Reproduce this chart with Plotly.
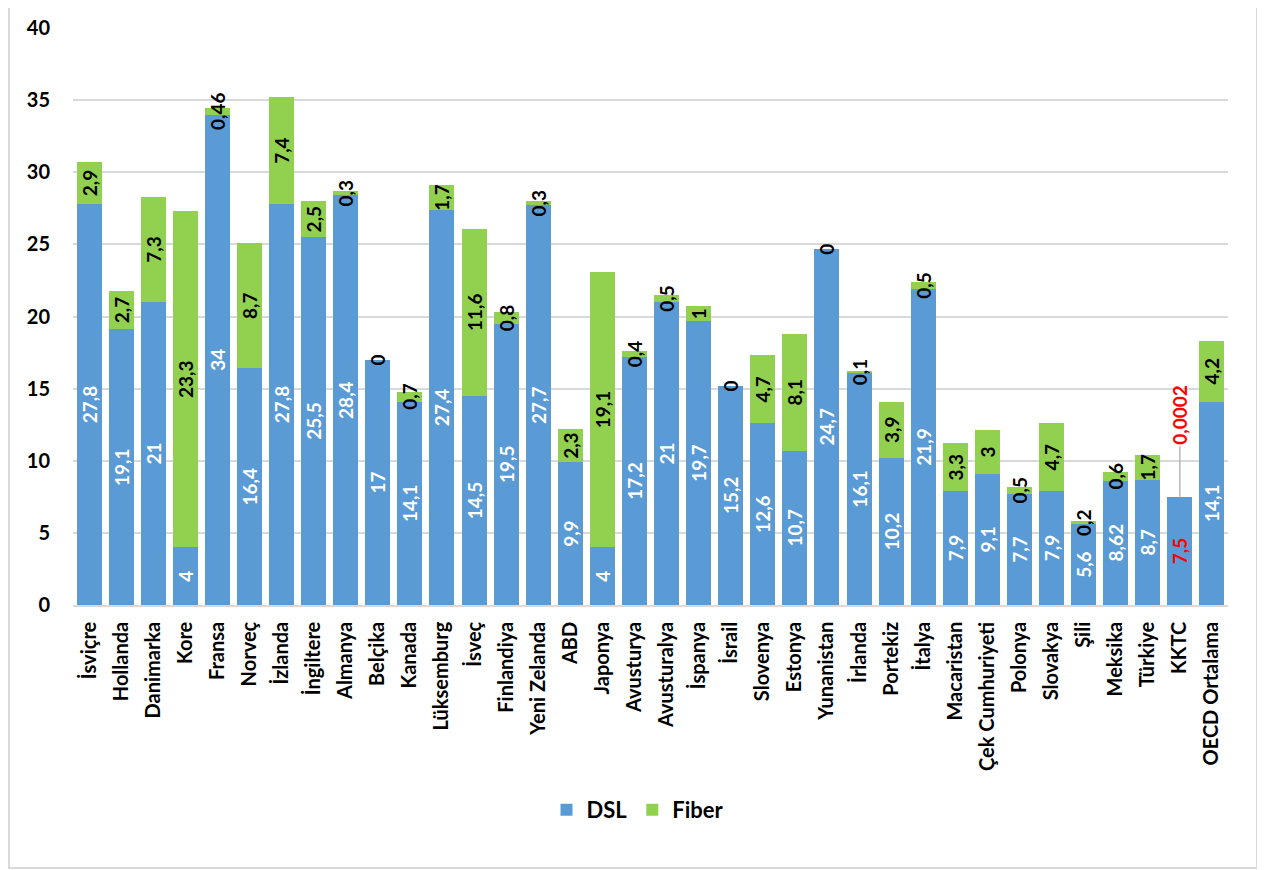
import plotly.graph_objects as go

countries = ["İsviçre", "Hollanda", "Danimarka", "Kore", "Fransa", "Norveç", "İzlanda",
             "İngiltere", "Almanya", "Belçika", "Kanada", "Lüksemburg", "İsveç", "Finlandiya",
             "Yeni Zelanda", "ABD", "Japonya", "Avusturya", "Avusturalya", "İspanya", "İsrail",
             "Slovenya", "Estonya", "Yunanistan", "İrlanda", "Portekiz", "İtalya", "Macaristan",
             "Çek Cumhuriyeti", "Polonya", "Slovakya", "Şili", "Meksika", "Türkiye", "KKTC",
             "OECD Ortalama"]
dsl = [27.8, 19.1, 21, 4, 34, 16.4, 27.8, 25.5, 28.4, 17, 14.1, 27.4, 14.5, 19.5, 27.7, 9.9,
       4, 17.2, 21, 19.7, 15.2, 12.6, 10.7, 24.7, 16.1, 10.2, 21.9, 7.9, 9.1, 7.7, 7.9, 5.6,
       8.62, 8.7, 7.5, 14.1]
fiber = [2.9, 2.7, 7.3, 23.3, 0.46, 8.7, 7.4, 2.5, 0.3, 0, 0.7, 1.7, 11.6, 0.8, 0.3, 2.3,
         19.1, 0.4, 0.5, 1, 0, 4.7, 8.1, 0, 0.1, 3.9, 0.5, 3.3, 3, 0.5, 4.7, 0.2, 0.6, 1.7,
         0.0002, 4.2]
highlight = "KKTC"
y_ticks = [0, 5, 10, 15, 20, 25, 30, 35, 40]

FONT = "Lato"
BLUE = "#5B9BD5"
GREEN = "#92D050"
GRID = "#D9D9D9"


def fmt(v):
    if float(v).is_integer():
        return str(int(v))
    return f"{v:g}".replace(".", ",") if v >= 0.001 else f"{v:.4f}".replace(".", ",")


dsl_text = [fmt(v) for v in dsl]
dsl_colors = ["red" if c == highlight else "white" for c in countries]
fiber_text = ["" if (c == highlight or f == 0) else fmt(f) for c, f in zip(countries, fiber)]

fig = go.Figure()
fig.add_trace(go.Bar(
    name="DSL", x=countries, y=dsl, marker=dict(color=BLUE, line=dict(width=0)),
    text=dsl_text, textposition="inside", insidetextanchor="middle", textangle=-90,
    constraintext="none", cliponaxis=False,
    textfont=dict(family=FONT, size=19, weight="bold", color=dsl_colors),
    hoverinfo="x+y"))
fig.add_trace(go.Bar(
    name="Fiber", x=countries, y=fiber, marker=dict(color=GREEN, line=dict(width=0)),
    text=fiber_text, textposition="inside", insidetextanchor="middle", textangle=-90,
    constraintext="none", cliponaxis=False,
    textfont=dict(family=FONT, size=19, weight="bold", color="black"),
    hoverinfo="x+y"))

annotations = []
for c, d, f in zip(countries, dsl, fiber):
    if c == highlight:
        annotations.append(dict(
            x=c, y=d + f, xref="x", yref="y", text=fmt(f), textangle=-90,
            showarrow=True, arrowhead=0, arrowwidth=1.2, arrowcolor="#A6A6A6",
            ax=0, ay=-82, standoff=0,
            font=dict(family=FONT, size=19, weight="bold", color="red")))
    elif f == 0:
        annotations.append(dict(
            x=c, y=d + f, xref="x", yref="y", text=fmt(f), textangle=-90,
            showarrow=False, xanchor="center", yanchor="middle",
            font=dict(family=FONT, size=19, weight="bold", color="black")))

# page offset (body margin) compensation: target pixel positions minus 8
OFF = 8
PL, PR, PT, PB = 73 - OFF, 1228 - OFF, 28 - OFF, 605 - OFF
W, H = 1265, 870
pw, ph = PR - PL, PB - PT

fig.update_layout(
    width=W, height=H,
    barmode="stack", bargap=0.22,
    paper_bgcolor="white", plot_bgcolor="white",
    margin=dict(l=PL, r=W - PR, t=PT, b=H - PB, autoexpand=False),
    font=dict(family=FONT, size=19, color="black", weight="bold"),
    legend=dict(orientation="h", x=(638 - OFF - PL) / pw, xanchor="center",
                y=-(810 - OFF - PB) / ph, yanchor="middle",
                font=dict(family=FONT, size=22, weight="bold", color="black"),
                traceorder="normal"),
    annotations=annotations,
    shapes=[dict(type="rect", xref="paper", yref="paper",
                 x0=(9 - OFF - PL) / pw, x1=(1257 - OFF - PL) / pw,
                 y0=-(868 - OFF - PB) / ph, y1=1 + 40 / ph,
                 line=dict(color=GRID, width=2), fillcolor="rgba(0,0,0,0)", layer="below")],
)
fig.update_xaxes(
    type="category", tickangle=-90, showline=True, linecolor=GRID, linewidth=1.5,
    showgrid=False, ticks="", ticklabelstandoff=7, automargin=False,
    tickfont=dict(family=FONT, size=20, weight="bold", color="black"))
fig.update_yaxes(
    range=[0, 40], tickvals=y_ticks, showgrid=True, gridcolor=GRID, gridwidth=1.5,
    zeroline=False, showline=False, ticks="", ticklabelstandoff=22, automargin=False,
    tickfont=dict(family=FONT, size=20, weight="bold", color="black"))

fig.write_html("out.html")
